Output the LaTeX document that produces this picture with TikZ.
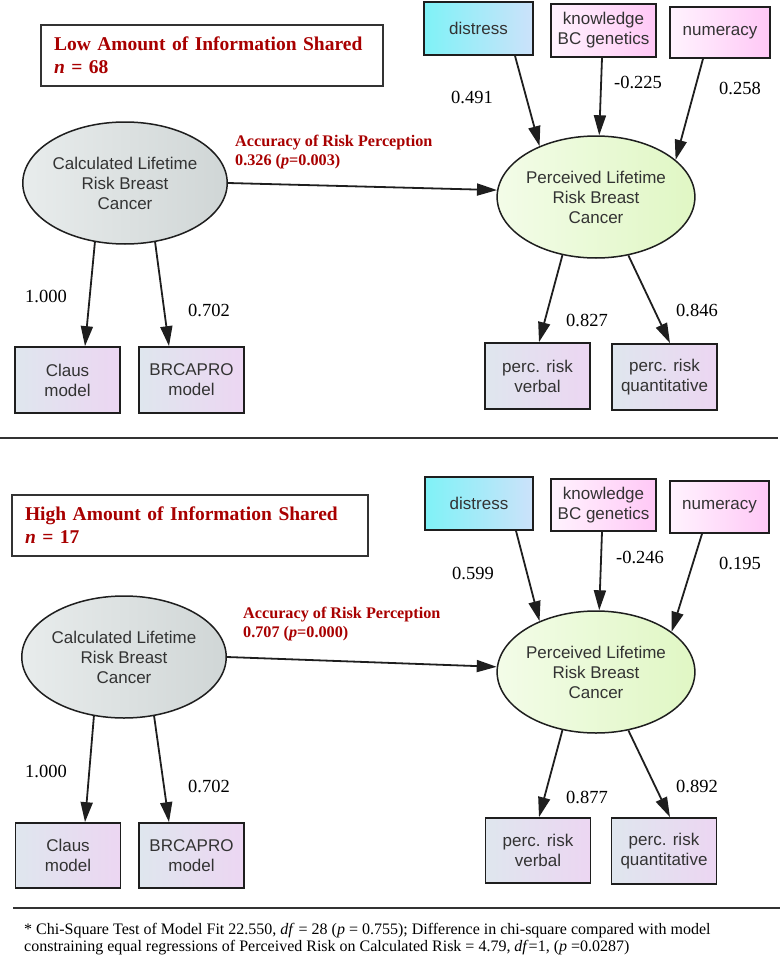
\documentclass[tikz,border=0pt]{standalone}
\usepackage{fontspec}
\setmainfont{Liberation Serif}
\setsansfont{Liberation Sans}
\usetikzlibrary{arrows.meta,shapes.geometric}
\definecolor{redlab}{HTML}{A80000}
\definecolor{txt}{HTML}{333333}
\definecolor{lineC}{HTML}{1E1E1E}
\definecolor{grayL}{HTML}{E8ECEC}
\definecolor{grayR}{HTML}{D0D6D6}
\definecolor{greenL}{HTML}{F3FCE8}
\definecolor{greenR}{HTML}{E0F7C4}
\definecolor{cyanL}{HTML}{7FF2F7}
\definecolor{cyanR}{HTML}{CCE2FA}
\definecolor{pinkL}{HTML}{FFF3FE}
\definecolor{pinkR}{HTML}{FFC8F6}
\definecolor{lavL}{HTML}{DFE6EE}
\definecolor{lavR}{HTML}{ECD6F2}
\tikzset{
  nodetext/.style={font=\sffamily\fontsize{17}{20}\selectfont, text=txt, align=center},
  box/.style={nodetext, draw=lineC, line width=1.7pt, inner sep=0pt},
  lavbox/.style={box, left color=lavL, right color=lavR, minimum width=105pt, minimum height=66pt},
  cyanbox/.style={box, left color=cyanL, right color=cyanR},
  pinkbox/.style={box, left color=pinkL, right color=pinkR},
  ell/.style={nodetext, ellipse, draw=lineC, line width=1.5pt, inner sep=0pt, minimum width=180pt, minimum height=122pt},
  ellc/.style={ell, left color=grayL, right color=grayR},
  ellp/.style={ell, left color=greenL, right color=greenR},
  arr/.style={draw=lineC, line width=1.8pt, -{Triangle[length=20pt,width=12pt]}},
  coef/.style={font=\fontsize{18.5}{20}\selectfont, inner sep=0pt, text=black},
  redtxt/.style={font=\bfseries\fontsize{16.2}{19}\selectfont, text=redlab, align=left, inner sep=0pt, anchor=west},
  titlebox/.style={draw=txt, line width=1.2pt, font=\bfseries\fontsize{19.5}{23}\selectfont, text=redlab, align=left, inner ysep=0pt, minimum height=61pt},
  sep/.style={draw=txt, line width=1.5pt},
  foot/.style={font=\fontsize{16}{16.5}\selectfont, align=left, inner sep=0pt, anchor=west}
}
\begin{document}
\begin{tikzpicture}[x=1pt,y=-1pt]
\useasboundingbox (0,0) rectangle (780,958);
% ---------------- top panel ----------------
\node[titlebox, minimum width=342pt, text width=316pt, inner xsep=13pt] (t1) at (212,55.5)
  {Low Amount of Information Shared\\\textit{n} = 68};
\node[ellc] (c1) at (125,183) {Calculated Lifetime\\Risk Breast\\Cancer};
\node[ellp] (p1) at (596,197) {Perceived Lifetime\\Risk Breast\\Cancer};
\node[cyanbox, minimum width=109pt, minimum height=53pt] (d1) at (478.5,28.5) {distress};
\node[pinkbox, minimum width=105pt, minimum height=53pt] (k1) at (603.5,30.5) {knowledge\\BC genetics};
\node[pinkbox, minimum width=100pt, minimum height=51pt] (n1) at (720,32.5) {numeracy};
\node[lavbox] (cl1) at (67.5,380) {Claus\\model};
\node[lavbox] (br1) at (191.5,380) {BRCAPRO\\model};
\node[lavbox] (v1) at (537.5,376) {perc. risk\\verbal};
\node[lavbox] (q1) at (664.5,377) {perc. risk\\quantitative};
\draw[arr] (c1.east) -- (p1.176);
\draw[arr] ([xshift=36.5pt]d1.south) -- (p1.138);
\draw[arr] ([xshift=-1.5pt]k1.south) -- (p1.87);
\draw[arr] ([xshift=-17pt]n1.south) -- (p1.25);
\draw[arr] (c1.243) -- ([xshift=17.5pt]cl1.north);
\draw[arr] (c1.297) -- ([xshift=-22.5pt]br1.north);
\draw[arr] (p1.240) -- ([xshift=1.5pt]v1.north);
\draw[arr] (p1.299) -- ([xshift=5.5pt]q1.north);
\node[redtxt] (r1) at (235,152.5) {Accuracy of Risk Perception\\0.326 (\textit{p}=0.003)};
\node[coef] (e1) at (472,97) {0.491};
\node[coef] (e2) at (638,82) {-0.225};
\node[coef] (e3) at (740,88) {0.258};
\node[coef] (e4) at (46,296) {1.000};
\node[coef] (e5) at (209,310) {0.702};
\node[coef] (e6) at (587,320) {0.827};
\node[coef] (e7) at (697,310) {0.846};
\coordinate (s1a) at (0,438);
\coordinate (s1b) at (778,438);
\draw[sep] (s1a) -- (s1b);
% ---------------- bottom panel ----------------
\node[titlebox, minimum width=356pt, text width=330pt, inner xsep=13pt] (t2) at (190,525.5)
  {High Amount of Information Shared\\\textit{n} = 17};
\node[ellc] (c2) at (124,657) {Calculated Lifetime\\Risk Breast\\Cancer};
\node[ellp] (p2) at (596,672) {Perceived Lifetime\\Risk Breast\\Cancer};
\node[cyanbox, minimum width=108pt, minimum height=53pt] (d2) at (479,503.5) {distress};
\node[pinkbox, minimum width=105pt, minimum height=52pt] (k2) at (603.5,505) {knowledge\\BC genetics};
\node[pinkbox, minimum width=99pt, minimum height=52pt] (n2) at (719.5,507) {numeracy};
\node[lavbox, minimum height=65pt] (cl2) at (68,855.5) {Claus\\model};
\node[lavbox, minimum height=65pt] (br2) at (191.5,855.5) {BRCAPRO\\model};
\node[lavbox, minimum height=65pt] (v2) at (538,850.5) {perc. risk\\verbal};
\node[lavbox, minimum height=66pt] (q2) at (664,851) {perc. risk\\quantitative};
\draw[arr] (c2.east) -- (p2.177);
\draw[arr] ([xshift=37pt]d2.south) -- (p2.138);
\draw[arr] ([xshift=-1.5pt]k2.south) -- (p2.87);
\draw[arr] ([xshift=-17.5pt]n2.south) -- (p2.28);
\draw[arr] (c2.243) -- ([xshift=17pt]cl2.north);
\draw[arr] (c2.297) -- ([xshift=-22.5pt]br2.north);
\draw[arr] (p2.240) -- ([xshift=1pt]v2.north);
\draw[arr] (p2.299) -- ([xshift=6pt]q2.north);
\node[redtxt] (r2) at (243,624.5) {Accuracy of Risk Perception\\0.707 (\textit{p}=0.000)};
\node[coef] (f1) at (473,573) {0.599};
\node[coef] (f2) at (640,557) {-0.246};
\node[coef] (f3) at (740,563) {0.195};
\node[coef] (f4) at (46,771) {1.000};
\node[coef] (f5) at (209,786) {0.702};
\node[coef] (f6) at (587,797) {0.877};
\node[coef] (f7) at (697,786) {0.892};
\coordinate (s2a) at (13,908);
\coordinate (s2b) at (780,908);
\draw[sep] (s2a) -- (s2b);
\node[foot] (fn) at (24,939)
  {* Chi-Square Test of Model Fit 22.550, \textit{df} = 28 (\textit{p} = 0.755); Difference in chi-square compared with model\\
   constraining equal regressions of Perceived Risk on Calculated Risk = 4.79, \textit{df}=1, (\textit{p} =0.0287)};
\end{tikzpicture}
\end{document}
